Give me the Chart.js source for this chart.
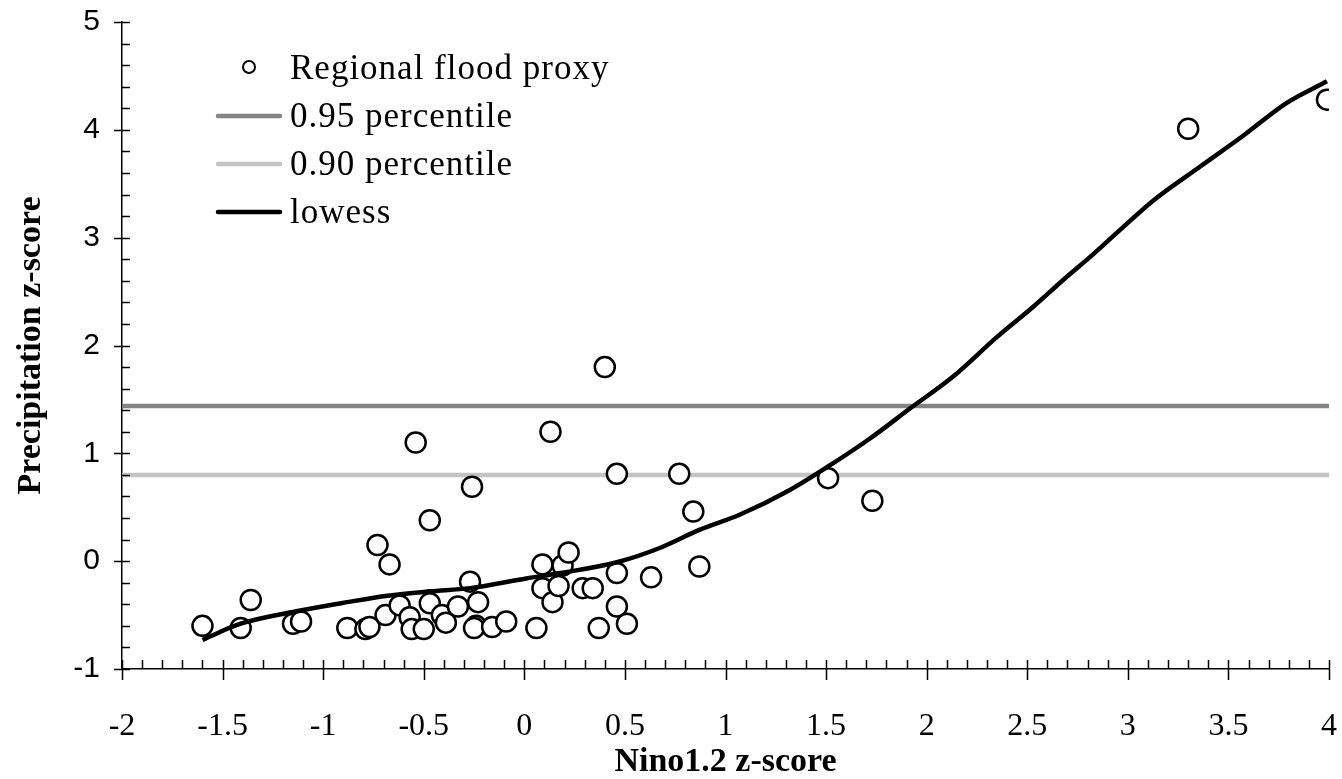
<!DOCTYPE html>
<html>
<head>
<meta charset="utf-8">
<script src="https://cdn.jsdelivr.net/npm/chart.js@4.4.0/dist/chart.umd.min.js"></script>
<style>
  html, body { margin: 0; padding: 0; background: #fff; }
</style>
</head>
<body>
<canvas id="myChart" width="1342" height="779"></canvas>
<script>
// scatter: regional flood proxy (Nino1.2 z-score vs precipitation z-score)
let floodX = [-1.60, -1.41, -1.36, -1.15, -1.11, -0.88, -0.79, -0.77, -0.73, -0.69,
              -0.67, -0.62, -0.57, -0.56, -0.54, -0.50, -0.47, -0.47, -0.41, -0.39,
              -0.33, -0.27, -0.26, -0.23, -0.24, -0.25, -0.16, -0.09, 0.06, 0.09,
              0.09, 0.13, 0.14, 0.17, 0.19, 0.22, 0.29, 0.34, 0.37, 0.40,
              0.46, 0.46, 0.46, 0.51, 0.63, 0.77, 0.84, 0.87, 1.51, 1.73,
              3.30, 3.99];
let floodY = [-0.60, -0.62, -0.36, -0.58, -0.56, -0.62, -0.63, -0.61, 0.15, -0.50,
              -0.03, -0.41, -0.52, -0.63, 1.10, -0.63, 0.38, -0.39, -0.50, -0.57,
              -0.42, -0.19, 0.69, -0.38, -0.60, -0.62, -0.61, -0.56, -0.62, -0.03,
              -0.25, 1.20, -0.38, -0.23, -0.04, 0.08, -0.25, -0.25, -0.62, 1.80,
              0.81, -0.11, -0.42, -0.58, -0.15, 0.81, 0.46, -0.05, 0.77, 0.56,
              4.01, 4.28];

// lowess curve
let lowessX = [-1.60, -1.41, -1.12, -0.88, -0.68, -0.47, -0.27, 0.01, 0.18, 0.46,
               0.67, 0.87, 1.07, 1.32, 1.52, 1.72, 1.92, 2.13, 2.35, 2.53,
               2.68, 2.83, 2.96, 3.13, 3.36, 3.57, 3.79, 3.99];
let lowessY = [-0.73, -0.58, -0.46, -0.38, -0.32, -0.28, -0.25, -0.16, -0.11, -0.01,
               0.12, 0.29, 0.43, 0.66, 0.89, 1.14, 1.42, 1.71, 2.08, 2.36,
               2.61, 2.85, 3.07, 3.35, 3.66, 3.94, 4.25, 4.45];

// percentile thresholds
let pct95 = 1.44;
let pct90 = 0.80;

// axis ranges
let xMin = -2, xMax = 4, xMajor = 0.5, xMinor = 0.1;
let yMin = -1, yMax = 5, yMajor = 1, yMinor = 0.2;

let labelFloods = 'Regional flood proxy';
let label95 = '0.95 percentile';
let label90 = '0.90 percentile';
let labelLowess = 'lowess';

function toPoints(xs, ys) {
    let pts = [];
    for (let i = 0; i < xs.length; i++) {
        pts.push({ x: xs[i], y: ys[i] });
    }
    return pts;
}

// little tick marks like the excel axis (minor inside, major crossing)
const tickMarks = {
    id: 'tickMarks',
    afterDraw(chart) {
        let ctx = chart.ctx;
        let xs = chart.scales.x;
        let ys = chart.scales.y;
        let area = chart.chartArea;
        ctx.save();
        ctx.strokeStyle = '#000';
        ctx.lineWidth = 1.5;
        ctx.beginPath();
        let nx = Math.round((xMax - xMin) / xMinor);
        let perX = Math.round(xMajor / xMinor);
        for (let i = 0; i <= nx; i++) {
            let px = Math.round(xs.getPixelForValue(xMin + i * xMinor)) + 0.5;
            ctx.moveTo(px, area.bottom - 9);
            ctx.lineTo(px, area.bottom + (i % perX === 0 ? 11 : 0));
        }
        let ny = Math.round((yMax - yMin) / yMinor);
        let perY = Math.round(yMajor / yMinor);
        for (let j = 0; j <= ny; j++) {
            let py = Math.round(ys.getPixelForValue(yMin + j * yMinor)) + 0.5;
            ctx.moveTo(area.left - (j % perY === 0 ? 8 : 0), py);
            ctx.lineTo(area.left + 8, py);
        }
        ctx.stroke();
        ctx.restore();
    }
};

// legend drawn as a column in the top-left corner of the plot
const sideLegend = {
    id: 'sideLegend',
    afterDraw(chart) {
        let ctx = chart.ctx;
        let area = chart.chartArea;
        let x0 = area.left + 96;
        let y0 = area.top + 46;
        let rowH = 48;
        ctx.save();
        ctx.font = '35px "Liberation Serif", "Times New Roman", serif';
        if ('letterSpacing' in ctx) ctx.letterSpacing = '1px';
        ctx.textBaseline = 'middle';
        ctx.fillStyle = '#000';
        chart.data.datasets.forEach(function (ds, i) {
            let y = y0 + i * rowH;
            if (ds.showLine) {
                ctx.strokeStyle = ds.borderColor;
                ctx.lineWidth = ds.borderWidth;
                ctx.lineCap = 'round';
                ctx.beginPath();
                ctx.moveTo(x0, y);
                ctx.lineTo(x0 + 62, y);
                ctx.stroke();
            } else {
                ctx.strokeStyle = ds.borderColor;
                ctx.lineWidth = 2;
                ctx.beginPath();
                ctx.arc(x0 + 31, y - 1, 6, 0, Math.PI * 2);
                ctx.stroke();
            }
            ctx.fillText(ds.label, x0 + 72, y + 2);
        });
        ctx.restore();
    }
};

function renderChart() {
    let ctx = document.getElementById('myChart').getContext('2d');
    let serif = '"Liberation Serif", "Times New Roman", serif';
    // grid only used to reserve room between axis and labels, the marks come from tickMarks
    let hiddenGrid = function (len) {
        return { display: true, drawOnChartArea: false, drawTicks: true, tickLength: len, color: 'rgba(0,0,0,0)' };
    };
    let myChart = new Chart(ctx, {
        type: 'scatter',
        data: {
            datasets: [
                {
                    label: labelFloods,
                    data: toPoints(floodX, floodY),
                    pointRadius: 10,
                    pointBorderWidth: 2.5,
                    borderColor: '#000',
                    backgroundColor: '#fff',
                    order: 1
                },
                {
                    label: label95,
                    data: toPoints([xMin, xMax], [pct95, pct95]),
                    showLine: true,
                    pointRadius: 0,
                    borderColor: '#848484',
                    borderWidth: 4.5,
                    order: 2
                },
                {
                    label: label90,
                    data: toPoints([xMin, xMax], [pct90, pct90]),
                    showLine: true,
                    pointRadius: 0,
                    borderColor: '#c3c3c3',
                    borderWidth: 4.5,
                    order: 3
                },
                {
                    label: labelLowess,
                    data: toPoints(lowessX, lowessY),
                    showLine: true,
                    pointRadius: 0,
                    borderColor: '#000',
                    borderWidth: 4.5,
                    cubicInterpolationMode: 'monotone',
                    order: 0
                }
            ]
        },
        options: {
            responsive: false,
            animation: false,
            layout: { padding: { top: 22, right: 13, left: 0, bottom: 0 } },
            plugins: {
                legend: { display: false },
                tooltip: { enabled: false }
            },
            scales: {
                x: {
                    type: 'linear',
                    min: xMin,
                    max: xMax,
                    grid: hiddenGrid(36),
                    border: { display: true, color: '#000', width: 1.5 },
                    ticks: {
                        stepSize: xMajor,
                        color: '#000',
                        padding: 2,
                        maxRotation: 0,
                        font: { family: serif, size: 32 },
                        callback: function (v) { return String(Math.round(v * 10) / 10); }
                    },
                    title: {
                        display: true,
                        text: 'Nino1.2 z-score',
                        color: '#000',
                        padding: { top: 0, bottom: 0 },
                        font: { family: serif, size: 34, weight: 'bold', lineHeight: 1 }
                    },
                    afterFit: function (scale) { scale.height = 110; }
                },
                y: {
                    type: 'linear',
                    min: yMin,
                    max: yMax,
                    grid: hiddenGrid(20),
                    border: { display: true, color: '#000', width: 1.5 },
                    ticks: {
                        stepSize: yMajor,
                        color: '#000',
                        padding: 2,
                        font: { family: '"Liberation Sans", Arial, sans-serif', size: 30 },
                        callback: function (v) { return String(v); }
                    },
                    title: {
                        display: true,
                        text: 'Precipitation z-score',
                        color: '#000',
                        padding: { top: 14, bottom: 0 },
                        font: { family: serif, size: 34, weight: 'bold', lineHeight: 1 }
                    },
                    afterFit: function (scale) { scale.width = 122; }
                }
            }
        },
        plugins: [tickMarks, sideLegend]
    });
}

renderChart();
</script>
</body>
</html>
